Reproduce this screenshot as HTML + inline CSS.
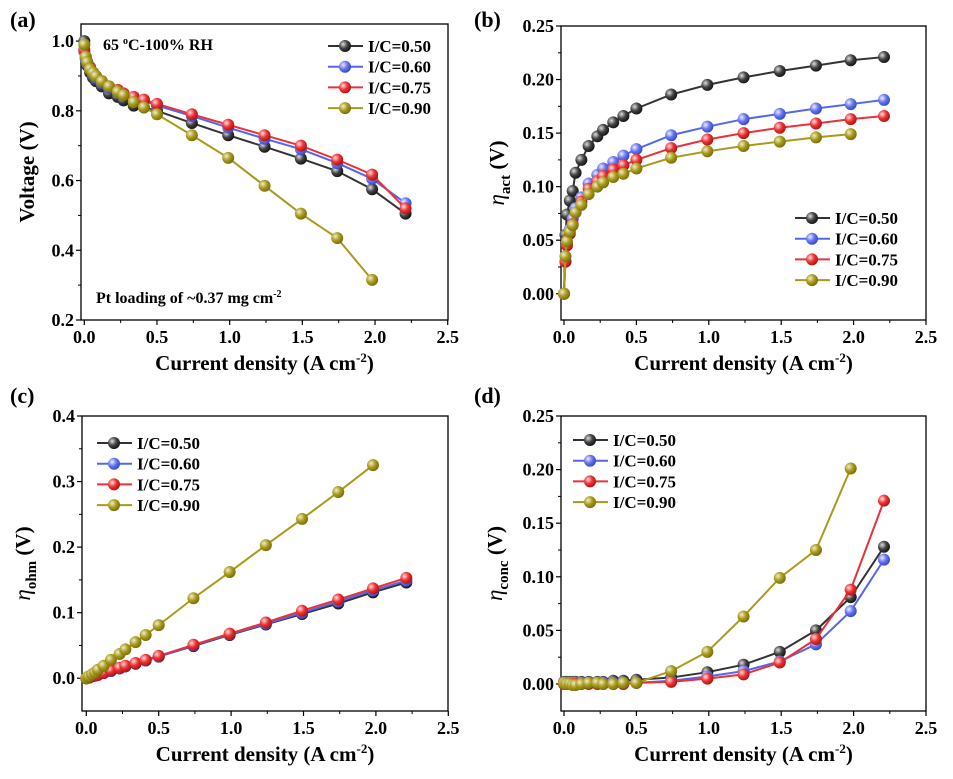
<!DOCTYPE html>
<html><head><meta charset="utf-8"><style>
body{margin:0;background:#fff;}
svg{display:block;font-family:"Liberation Serif",serif;font-weight:bold;}
</style></head><body>
<svg id="fig" width="953" height="779" viewBox="0 0 953 779">
<defs>
<radialGradient id="g0" cx="0.35" cy="0.35" r="0.7"><stop offset="0" stop-color="#ddd"/><stop offset="0.5" stop-color="#444"/><stop offset="1" stop-color="#111"/></radialGradient>
<radialGradient id="g1" cx="0.35" cy="0.35" r="0.7"><stop offset="0" stop-color="#eef"/><stop offset="0.5" stop-color="#6677ee"/><stop offset="1" stop-color="#3344cc"/></radialGradient>
<radialGradient id="g2" cx="0.35" cy="0.35" r="0.7"><stop offset="0" stop-color="#fdd"/><stop offset="0.5" stop-color="#ee3333"/><stop offset="1" stop-color="#aa1111"/></radialGradient>
<radialGradient id="g3" cx="0.35" cy="0.35" r="0.7"><stop offset="0" stop-color="#eec"/><stop offset="0.5" stop-color="#aa9c1c"/><stop offset="1" stop-color="#776a08"/></radialGradient>
</defs>
</svg>
<script>
const xVals = [0,0.01,0.02,0.04,0.06,0.08,0.12,0.17,0.23,0.27,0.34,0.41,0.5,0.74,0.99,1.24,1.49,1.74,1.98,2.21];
const seriesNames = ["I/C=0.50","I/C=0.60","I/C=0.75","I/C=0.90"];
const voltage050 = [1.0,0.95,0.93,0.91,0.895,0.885,0.87,0.85,0.84,0.83,0.815,0.81,0.80,0.765,0.73,0.697,0.663,0.627,0.575,0.505];
const voltage060 = [0.97,0.95,0.935,0.92,0.905,0.895,0.88,0.865,0.855,0.845,0.835,0.828,0.815,0.785,0.752,0.72,0.69,0.65,0.605,0.535];
const voltage075 = [0.975,0.955,0.94,0.925,0.91,0.9,0.885,0.87,0.86,0.85,0.84,0.832,0.82,0.79,0.76,0.73,0.70,0.66,0.617,0.52];
const voltage090 = [0.99,0.955,0.94,0.92,0.91,0.9,0.885,0.87,0.855,0.845,0.825,0.81,0.79,0.73,0.665,0.585,0.505,0.435,0.315];
const act050 = [0,0.055,0.074,0.087,0.096,0.113,0.125,0.138,0.147,0.153,0.16,0.166,0.173,0.186,0.195,0.202,0.208,0.213,0.218,0.221];
const act060 = [0,0.03,0.047,0.06,0.07,0.08,0.09,0.103,0.111,0.117,0.123,0.129,0.135,0.148,0.156,0.163,0.168,0.173,0.177,0.181];
const act075 = [0,0.03,0.045,0.056,0.065,0.076,0.086,0.098,0.105,0.11,0.116,0.12,0.125,0.136,0.144,0.15,0.155,0.159,0.163,0.166];
const act090 = [0,0.035,0.049,0.058,0.064,0.076,0.083,0.093,0.1,0.104,0.109,0.112,0.117,0.127,0.133,0.138,0.142,0.146,0.149];
const ohm050 = [0,0.001,0.001,0.003,0.004,0.005,0.008,0.011,0.015,0.018,0.022,0.027,0.033,0.049,0.066,0.082,0.098,0.114,0.131,0.146];
const ohm060 = [0,0.001,0.001,0.003,0.004,0.005,0.008,0.011,0.015,0.018,0.023,0.027,0.033,0.050,0.067,0.083,0.100,0.117,0.134,0.149];
const ohm075 = [0,0.001,0.001,0.003,0.004,0.005,0.008,0.012,0.016,0.019,0.023,0.028,0.034,0.051,0.068,0.085,0.103,0.120,0.137,0.153];
const ohm090 = [0,0.002,0.003,0.006,0.009,0.013,0.019,0.028,0.037,0.044,0.055,0.066,0.081,0.122,0.162,0.203,0.243,0.284,0.325];
const conc050 = [0.002,0.002,0.002,0.002,0.002,0.002,0.002,0.002,0.002,0.002,0.003,0.003,0.004,0.006,0.011,0.018,0.030,0.050,0.081,0.128];
const conc060 = [0.001,0.001,0.001,0.001,0.001,0.001,0.001,0.001,0.001,0.001,0.001,0.001,0.001,0.003,0.007,0.012,0.021,0.037,0.068,0.116];
const conc075 = [0,0,0,0,0,0,0,0,0,0,0,0,0.001,0.002,0.005,0.009,0.020,0.042,0.088,0.171];
const conc090 = [0.001,0,0,0,-0.001,-0.001,0,0.001,0.001,0,0,0.001,0.001,0.012,0.030,0.063,0.099,0.125,0.201];
const yTicksA = [0.2,0.4,0.6,0.8,1.0];
const yTicksB = [0.00,0.05,0.10,0.15,0.20,0.25];
const yTicksC = [0.0,0.1,0.2,0.3,0.4];
const yTicksD = [0.00,0.05,0.10,0.15,0.20,0.25];
const xTicks = [0.0,0.5,1.0,1.5,2.0,2.5];

const colors=["#333","#5566ee","#e8323a","#a89a1a"];
const NS="http://www.w3.org/2000/svg";
const svg=document.getElementById('fig');
function mk(tag,attrs,parent,text){const e=document.createElementNS(NS,tag);for(const k in attrs)e.setAttribute(k,attrs[k]);if(text!==undefined)e.textContent=text;(parent||svg).appendChild(e);return e;}

const panels=[
 {id:'a',L:81,R:448,T:24,B:320,x0:84.3,x1:447.7,ymin:0.2,ymax:1.049,yT:yTicksA,dec:1,data:[voltage050,voltage060,voltage075,voltage090],
  leg:[328,46],ytitle:'Voltage (V)',yx:34,lab:[10,27]},
 {id:'b',L:561,R:926,T:26,B:320,x0:564,x1:926,ymin:-0.0245,ymax:0.25,yT:yTicksB,dec:2,data:[act050,act060,act075,act090],
  leg:[795,218],ytitle:'act',yx:504,lab:[474,27]},
 {id:'c',L:82,R:448,T:416,B:711,x0:86.3,x1:448.3,ymin:-0.05,ymax:0.4,yT:yTicksC,dec:1,data:[ohm050,ohm060,ohm075,ohm090],
  leg:[97,443],ytitle:'ohm',yx:30,lab:[10,403]},
 {id:'d',L:561,R:926,T:416,B:711,x0:564,x1:926,ymin:-0.0252,ymax:0.25,yT:yTicksD,dec:2,data:[conc050,conc060,conc075,conc090],
  leg:[573,440],ytitle:'conc',yx:502,lab:[474,403]}
];

panels.forEach(p=>{
 const g=mk('g',{});
 
 
 const sx=v=>p.x0+(v/2.5)*(p.x1-p.x0);
 const sy=v=>p.B-(v-p.ymin)/(p.ymax-p.ymin)*(p.B-p.T);
 const fr=mk('rect',{x:p.L,y:p.T,width:p.R-p.L,height:p.B-p.T,fill:'none',stroke:'#000','stroke-width':1.3},g);
 
 
 // x ticks
 xTicks.forEach((t,i)=>{
  mk('line',{x1:sx(t),x2:sx(t),y1:p.B,y2:p.B+5,stroke:'#000','stroke-width':1.2},g);
  if(i<xTicks.length-1)mk('line',{x1:sx(t+0.25),x2:sx(t+0.25),y1:p.B,y2:p.B+3,stroke:'#000','stroke-width':1},g);
  const tl=mk('text',{x:sx(t),y:p.B+23,'font-size':18,'text-anchor':'middle'},g,t.toFixed(1));
  
  
 });
 p.yT.forEach((t,i)=>{
  mk('line',{x1:p.L-5,x2:p.L,y1:sy(t),y2:sy(t),stroke:'#000','stroke-width':1.2},g);
  if(i<p.yT.length-1){const m=(t+p.yT[i+1])/2;mk('line',{x1:p.L-3,x2:p.L,y1:sy(m),y2:sy(m),stroke:'#000','stroke-width':1},g);}
  else {const st=p.yT[1]-p.yT[0];const m=t-st/2; }
  const tl=mk('text',{x:p.L-7,y:sy(t)+6,'font-size':18,'text-anchor':'end'},g,t.toFixed(p.dec));
  
  
 });
 // x title
 const xt=mk('text',{x:(p.L+p.R)/2,y:p.B+50,'font-size':21,'text-anchor':'middle'},g);
 
 
 xt.innerHTML='Current density (A cm<tspan dy="-8" font-size="13">-2</tspan><tspan dy="8">)</tspan>';
 // y title
 const cy=(p.T+p.B)/2;
 const yt=mk('text',{x:p.yx,y:cy,'font-size':21,'text-anchor':'middle',transform:`rotate(-90 ${p.yx} ${cy})`},g);
 
 
 if(p.id==='a') yt.textContent='Voltage (V)';
 else yt.innerHTML='<tspan font-style="italic" font-weight="normal" font-size="23">η</tspan><tspan dy="6" font-size="15">'+p.ytitle+'</tspan><tspan dy="-6"> (V)</tspan>';
 // panel label
 const pl=mk('text',{x:p.lab[0],y:p.lab[1],'font-size':22},g,'('+p.id+')');
 
 
 // series
 p.data.forEach((arr,si)=>{
  const sg=mk('g',{},g);
  
  
  const pts=arr.map((v,i)=>sx(xVals[i])+','+sy(v)).join(' ');
  mk('polyline',{points:pts,fill:'none',stroke:colors[si],'stroke-width':2},sg);
  arr.forEach((v,i)=>{
   const c=mk('circle',{cx:sx(xVals[i]),cy:sy(v),r:6,fill:`url(#g${si})`},sg);
   
   
  });
 });
 // legend
 const lg=mk('g',{},g);
 
 
 seriesNames.forEach((n,si)=>{
  const y=p.leg[1]+si*20.7;
  const le=mk('g',{},lg);
  
  
  mk('line',{x1:p.leg[0],x2:p.leg[0]+35,y1:y,y2:y,stroke:colors[si],'stroke-width':2},le);
  mk('circle',{cx:p.leg[0]+17,cy:y,r:6,fill:`url(#g${si})`},le);
  mk('text',{x:p.leg[0]+40,y:y+6,'font-size':17},le,n);
 });
 if(p.id==='a'){
  const a1=mk('text',{x:103,y:50,'font-size':16},g);
  a1.innerHTML='65 <tspan dy="-6" font-size="10">o</tspan><tspan dy="6">C-100% RH</tspan>';
  
  
  const a2=mk('text',{x:96,y:303,'font-size':16},g);
  a2.innerHTML='Pt loading of ~0.37 mg cm<tspan dy="-6" font-size="10">-2</tspan>';
  
  
 }
});
</script>
</body></html>
